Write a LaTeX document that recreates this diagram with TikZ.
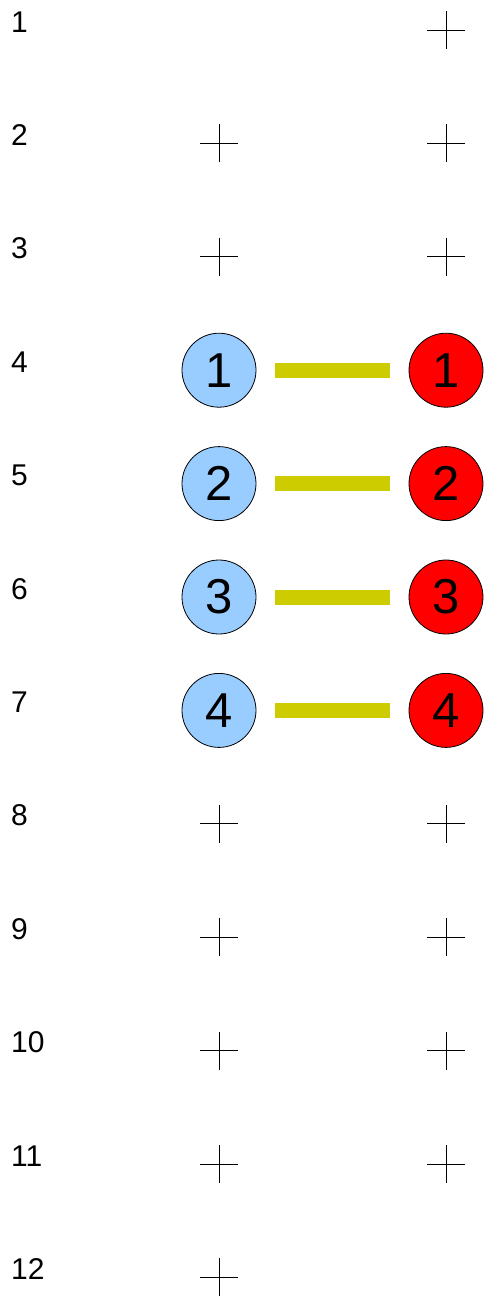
\documentclass[tikz,border=0pt]{standalone}
\usepackage{fontspec}
\setmainfont{Liberation Sans}
\usepackage{xcolor}
\usetikzlibrary{calc}

\definecolor{paleblue}{HTML}{99CCFF}
\definecolor{barolive}{HTML}{CCCC00}

\begin{document}
\begin{tikzpicture}[x=1pt,y=-1pt,
							every node/.style={inner sep=0pt},
							rownum/.style={anchor=base west,font=\fontsize{30}{34}\selectfont},
							plus/.style={minimum size=38pt,
								path picture={\draw[line width=1pt]
									(path picture bounding box.north) -- (path picture bounding box.south)
									(path picture bounding box.west) -- (path picture bounding box.east);}},
							ball/.style={circle,draw,line width=0.8pt,minimum size=74pt,
								font=\fontsize{49}{52}\selectfont},
							link/.style={line width=15pt,draw=barolive,shorten <=19pt,shorten >=19pt}]
			\useasboundingbox (0,0) rectangle (485,1296);
			% row numbers
			\foreach \i in {1,...,12}
				\node[rownum] (num\i) at (11,{32+(\i-1)*113.4}) {\i};
			% empty places
			\foreach \i in {2,3,8,9,10,11,12}
				\node[plus] (l\i) at (219,{30+(\i-1)*113.4}) {};
			\foreach \i in {1,2,3,8,9,10,11}
				\node[plus] (r\i) at (446,{30+(\i-1)*113.4}) {};
			% matched pairs
			\foreach \i [evaluate=\i as \k using int(\i-3)] in {4,...,7}
			{
				\node[ball,fill=paleblue] (l\i) at (219,{30+(\i-1)*113.4}) {\k};
				\node[ball,fill=red] (r\i) at (446,{30+(\i-1)*113.4}) {\k};
				\draw[link] (l\i.east) -- (r\i.west);
			}
		\end{tikzpicture}
\end{document}
